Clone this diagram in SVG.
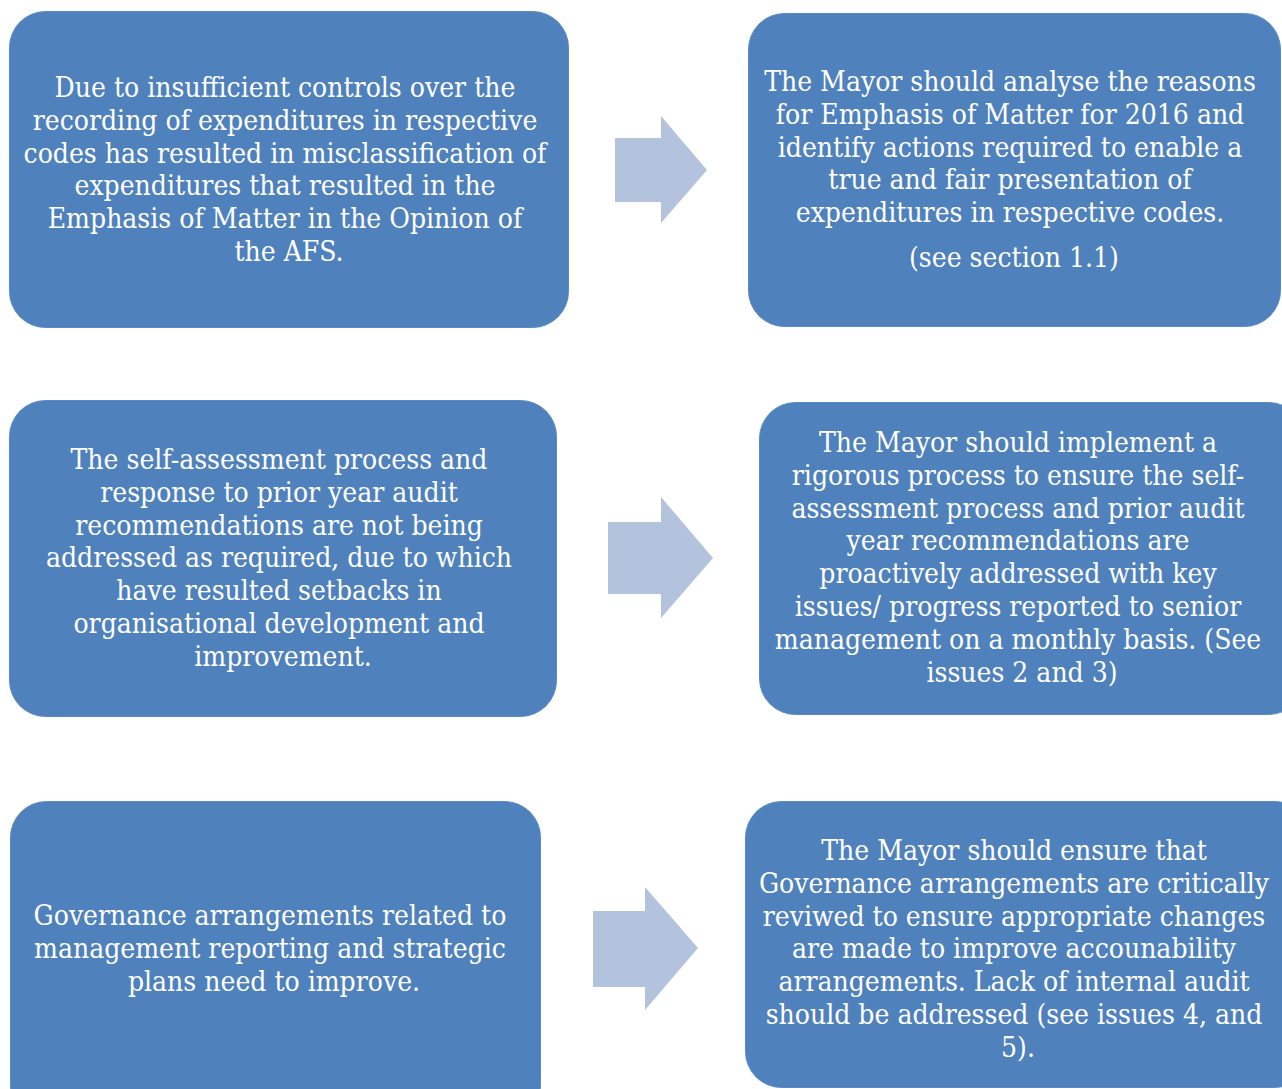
<svg xmlns="http://www.w3.org/2000/svg" width="1282" height="1089" viewBox="0 0 1282 1089">
  <style>
    .box { fill: #4F81BD; stroke: #5A8AC4; stroke-width: 1; }
    .arrow { fill: #B3C3DE; stroke: none; }
    .t { font-family: "DejaVu Serif Condensed", "DejaVu Serif", serif; font-stretch: condensed; font-size: 28px; fill: #FFFFFF; text-anchor: middle; }
  </style>
  <rect width="1282" height="1089" fill="#FFFFFF"/>

  <!-- issue 1 -->
  <g id="issue-afs">
    <rect class="box" x="9.5" y="11.5" width="559" height="316" rx="36"/>
    <text class="t">
      <tspan x="289" y="97">Due to insufficient controls over the</tspan>
      <tspan x="289" y="129.8">recording of expenditures in respective</tspan>
      <tspan x="289" y="162.6">codes has resulted in misclassification of</tspan>
      <tspan x="289" y="195.4">expenditures that resulted in the</tspan>
      <tspan x="289" y="228.2">Emphasis of Matter in the Opinion of</tspan>
      <tspan x="289" y="261">the AFS.</tspan>
    </text>
  </g>

  <g id="action-afs">
    <rect class="box" x="748.5" y="13.5" width="532" height="313" rx="36"/>
    <text class="t">
      <tspan x="1014" y="91">The Mayor should analyse the reasons</tspan>
      <tspan x="1014" y="123.8">for Emphasis of Matter for 2016 and</tspan>
      <tspan x="1014" y="156.6">identify actions required to enable a</tspan>
      <tspan x="1014" y="189.4">true and fair presentation of</tspan>
      <tspan x="1014" y="222.2">expenditures in respective codes.</tspan>
      <tspan x="1014" y="267">(see section 1.1)</tspan>
    </text>
  </g>

  <!-- issue 2 -->
  <g id="issue-self-assessment">
    <rect class="box" x="9.5" y="400.5" width="547" height="316" rx="36"/>
    <text class="t">
      <tspan x="283" y="469">The self-assessment process and</tspan>
      <tspan x="283" y="501.8">response to prior year audit</tspan>
      <tspan x="283" y="534.6">recommendations are not being</tspan>
      <tspan x="283" y="567.4">addressed as required, due to which</tspan>
      <tspan x="283" y="600.2">have resulted setbacks in</tspan>
      <tspan x="283" y="633">organisational development and</tspan>
      <tspan x="283" y="665.8">improvement.</tspan>
    </text>
  </g>

  <g id="action-self-assessment">
    <rect class="box" x="759.5" y="402.5" width="545" height="312" rx="36"/>
    <text class="t">
      <tspan x="1022" y="452">The Mayor should implement a</tspan>
      <tspan x="1022" y="484.8">rigorous process to ensure the self-</tspan>
      <tspan x="1022" y="517.6">assessment process and prior audit</tspan>
      <tspan x="1022" y="550.4">year recommendations are</tspan>
      <tspan x="1022" y="583.2">proactively addressed with key</tspan>
      <tspan x="1022" y="616">issues/ progress reported to senior</tspan>
      <tspan x="1022" y="648.8">management on a monthly basis. (See</tspan>
      <tspan x="1022" y="681.6">issues 2 and 3)</tspan>
    </text>
  </g>

  <!-- issue 3 -->
  <g id="issue-governance">
    <rect class="box" x="10.5" y="801.5" width="530" height="320" rx="36"/>
    <text class="t">
      <tspan x="274" y="925">Governance arrangements related to</tspan>
      <tspan x="274" y="957.8">management reporting and strategic</tspan>
      <tspan x="274" y="990.6">plans need to improve.</tspan>
    </text>
  </g>

  <g id="action-governance">
    <rect class="box" x="745.5" y="801.5" width="565" height="286" rx="36"/>
    <text class="t">
      <tspan x="1018" y="860">The Mayor should ensure that</tspan>
      <tspan x="1018" y="892.8">Governance arrangements are critically</tspan>
      <tspan x="1018" y="925.6">reviwed to ensure appropriate changes</tspan>
      <tspan x="1018" y="958.4">are made to improve accounability</tspan>
      <tspan x="1018" y="991.2">arrangements. Lack of internal audit</tspan>
      <tspan x="1018" y="1024">should be addressed (see issues 4, and</tspan>
      <tspan x="1018" y="1056.8">5).</tspan>
    </text>
  </g>

  <!-- block arrows linking each issue to its action -->
  <g id="connectors">
    <polygon class="arrow" points="615,138 661,138 661,116 707,170 661,223 661,202 615,202"/>
    <polygon class="arrow" points="608,522 661,522 661,497 713,558 661,618 661,594 608,594"/>
    <polygon class="arrow" points="593,911 645,911 645,887 698,948 645,1010 645,987 593,987"/>
  </g>
</svg>
